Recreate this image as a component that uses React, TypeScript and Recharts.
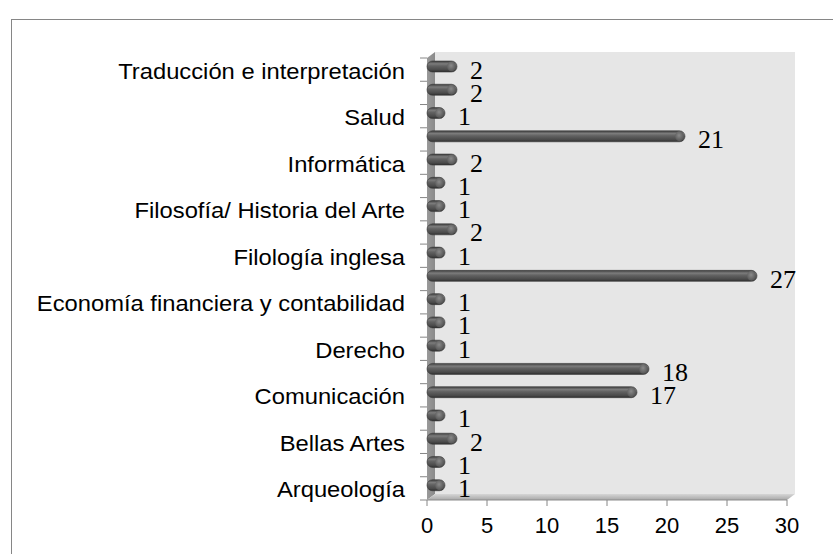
import { BarChart, Bar, XAxis, YAxis, LabelList } from 'recharts';

// categories listed top to bottom; only every other one carries a visible label
const categories = [
  'Traducción e interpretación',
  'Turismo',
  'Salud',
  'Periodismo',
  'Informática',
  'Historia',
  'Filosofía/ Historia del Arte',
  'Filología moderna',
  'Filología inglesa',
  'Educación',
  'Economía financiera y contabilidad',
  'Economía',
  'Derecho',
  'Comunicación audiovisual',
  'Comunicación',
  'Biología',
  'Bellas Artes',
  'Arquitectura',
  'Arqueología',
];
const counts = [2, 2, 1, 21, 2, 1, 1, 2, 1, 27, 1, 1, 1, 18, 17, 1, 2, 1, 1];
const xTicks = [0, 5, 10, 15, 20, 25, 30];

const data = categories.map((name, i) => ({ name, value: counts[i] }));

const W = 833;
const H = 554;
const PLOT_LEFT = 427;
const PLOT_RIGHT = 787;
const PLOT_TOP = 58;
const PLOT_BOTTOM = 500;
const DX = 8;
const DY = 6;
const BAND = (PLOT_BOTTOM - PLOT_TOP) / categories.length;
const SANS = '"Liberation Sans", Arial, sans-serif';
const SERIF = '"Liberation Serif", "Times New Roman", serif';

function Cylinder(props: any) {
  const { x, y, width, height } = props;
  const yy = y - 3;
  const w = width + 6;
  const r = height / 2;
  return (
    <g>
      <rect x={x} y={yy} width={w} height={height} rx={r} ry={r} fill="url(#cyl)" stroke="#3a3a3a" strokeWidth={0.6} />
      <ellipse cx={x + w - r} cy={yy + r} rx={r * 0.8} ry={r * 0.9} fill="url(#cap)" />
    </g>
  );
}

function ValueLabel(props: any) {
  const { x, y, width, height, value } = props;
  return (
    <text x={x + width + 19} y={y + height / 2 + 9} fontFamily={SERIF} fontSize={26} fill="#000">
      {value}
    </text>
  );
}

function CategoryTick(props: any) {
  const { y, payload } = props;
  return (
    <g>
      <line x1={PLOT_LEFT - 7} x2={PLOT_LEFT} y1={y - BAND / 2} y2={y - BAND / 2} stroke="#868686" />
      <line x1={PLOT_LEFT - 7} x2={PLOT_LEFT} y1={y + BAND / 2} y2={y + BAND / 2} stroke="#868686" />
      <text
        transform={`translate(${PLOT_LEFT - 22},${y + 9}) scale(1.08,1)`}
        textAnchor="end"
        fontFamily={SANS}
        fontSize={22}
        fill="#000"
      >
        {payload.value}
      </text>
    </g>
  );
}

export default function App() {
  return (
    <div style={{ position: 'absolute', left: 0, top: 0, width: W, height: H, background: '#fff', overflow: 'hidden' }}>
      <svg width={W} height={H} style={{ position: 'absolute', left: 0, top: 0 }}>
        <defs>
          <linearGradient id="sideWall" x1="0" y1="0" x2="1" y2="0">
            <stop offset="0%" stopColor="#9a9a9a" />
            <stop offset="100%" stopColor="#8a8a8a" />
          </linearGradient>
          <linearGradient id="floorG" x1="0" y1="0" x2="0" y2="1">
            <stop offset="0%" stopColor="#d6d6d6" />
            <stop offset="100%" stopColor="#a8a8a8" />
          </linearGradient>
        </defs>
        <rect x={11.5} y={19.5} width={900} height={700} fill="#fff" stroke="#868686" />
        <rect x={PLOT_LEFT + DX} y={PLOT_TOP - DY} width={PLOT_RIGHT - PLOT_LEFT} height={PLOT_BOTTOM - PLOT_TOP} fill="#e6e6e6" />
        <polygon
          points={`${PLOT_LEFT},${PLOT_TOP} ${PLOT_LEFT + DX},${PLOT_TOP - DY} ${PLOT_LEFT + DX},${PLOT_BOTTOM - DY} ${PLOT_LEFT},${PLOT_BOTTOM}`}
          fill="url(#sideWall)"
        />
        <polygon
          points={`${PLOT_LEFT},${PLOT_BOTTOM} ${PLOT_LEFT + DX},${PLOT_BOTTOM - DY} ${PLOT_RIGHT + DX},${PLOT_BOTTOM - DY} ${PLOT_RIGHT},${PLOT_BOTTOM}`}
          fill="url(#floorG)"
        />
        <line x1={PLOT_LEFT} x2={PLOT_RIGHT} y1={PLOT_BOTTOM} y2={PLOT_BOTTOM} stroke="#8c8c8c" />
      </svg>
      <div style={{ position: 'absolute', left: 0, top: 0 }}>
        <BarChart
          width={W}
          height={H}
          data={data}
          layout="vertical"
          margin={{ top: PLOT_TOP, right: W - PLOT_RIGHT, bottom: H - PLOT_BOTTOM - 40, left: 0 }}
        >
          <defs>
            <linearGradient id="cyl" x1="0" y1="0" x2="0" y2="1">
              <stop offset="0%" stopColor="#3c3c3c" />
              <stop offset="25%" stopColor="#7c7c7c" />
              <stop offset="45%" stopColor="#626262" />
              <stop offset="80%" stopColor="#4a4a4a" />
              <stop offset="100%" stopColor="#2e2e2e" />
            </linearGradient>
            <radialGradient id="cap" cx="0.45" cy="0.4" r="0.6">
              <stop offset="0%" stopColor="#8a8a8a" />
              <stop offset="100%" stopColor="#555" />
            </radialGradient>
          </defs>
          <XAxis
            type="number"
            domain={[0, 30]}
            ticks={xTicks}
            height={40}
            axisLine={false}
            tickLine={{ stroke: '#868686' }}
            tickSize={6}
            tickMargin={11}
            tick={{ fill: '#000', fontSize: 22, fontFamily: SANS }}
          />
          <YAxis
            type="category"
            dataKey="name"
            width={PLOT_LEFT}
            interval={1}
            axisLine={false}
            tickLine={false}
            tick={<CategoryTick />}
          />
          <Bar dataKey="value" barSize={11} shape={<Cylinder />} isAnimationActive={false}>
            <LabelList dataKey="value" content={<ValueLabel />} />
          </Bar>
        </BarChart>
      </div>
    </div>
  );
}
